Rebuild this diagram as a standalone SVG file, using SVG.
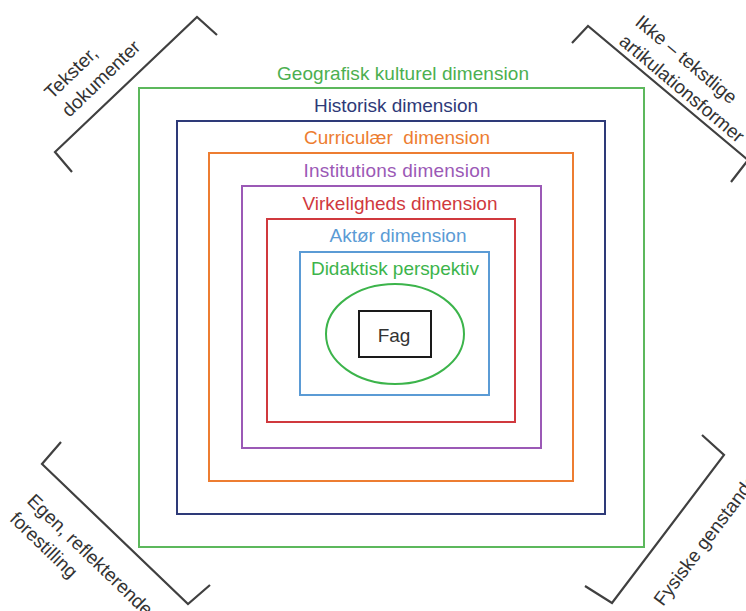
<svg xmlns="http://www.w3.org/2000/svg" width="746" height="611" viewBox="0 0 746 611">
<style>
  .box { fill: none; stroke-width: 2; }
  .lbl { font-family: "Liberation Sans", Arial, sans-serif; font-size: 19px; text-anchor: middle; }
  .corner { font-family: "Liberation Sans", Arial, sans-serif; font-size: 19px; fill: #333333; }
  .bracket { fill: none; stroke: #404040; stroke-width: 2.2; stroke-linejoin: miter; }
</style>
<rect width="746" height="611" fill="#ffffff"/>
<g id="brackets">
  <polyline class="bracket" points="72,172 55,152 197,17 217,35"/>
  <polyline class="bracket" points="572,43 588,26 748,160 731,182"/>
  <polyline class="bracket" points="61,442 42,464 188,604 210,585"/>
  <polyline class="bracket" points="702,435 724,455 612,603 585,586"/>
</g>
<g id="label-tekster" transform="translate(52,100) rotate(-44)">
  <text class="corner" x="0" y="0">Tekster,</text>
  <text class="corner" x="0" y="25">dokumenter</text>
</g>
<g id="label-ikke" transform="translate(634,24) rotate(40)">
  <text class="corner" x="0" y="0">Ikke – tekstlige</text>
  <text class="corner" x="0" y="25">artikulationsformer</text>
</g>
<g id="label-egen" transform="translate(26,502) rotate(44)">
  <text class="corner" x="0" y="0">Egen, reflekterende</text>
  <text class="corner" x="0" y="25">forestilling</text>
</g>
<g id="label-fysiske" transform="translate(663,607) rotate(-53)">
  <text class="corner" x="0" y="0">Fysiske genstande</text>
</g>
<g id="geografisk">
  <rect class="box" x="139" y="88" width="505" height="459" stroke="#5cb85c"/>
  <text class="lbl" x="403" y="80" fill="#4caf50" textLength="252">Geografisk kulturel dimension</text>
</g>
<g id="historisk">
  <rect class="box" x="177" y="121" width="428" height="393" stroke="#2e3a78"/>
  <text class="lbl" x="396" y="112" fill="#2e3a78" textLength="164">Historisk dimension</text>
</g>
<g id="curriculaer">
  <rect class="box" x="209" y="153" width="364" height="328" stroke="#ed7d31"/>
  <text class="lbl" x="397" y="144" fill="#ed7d31" textLength="186" xml:space="preserve">Curriculær  dimension</text>
</g>
<g id="institutions">
  <rect class="box" x="242" y="186" width="299" height="262" stroke="#9b59b6"/>
  <text class="lbl" x="397" y="177" fill="#9b59b6" textLength="187">Institutions dimension</text>
</g>
<g id="virkeligheds">
  <rect class="box" x="267" y="219" width="248" height="203" stroke="#d0393e"/>
  <text class="lbl" x="400" y="210" fill="#d0393e" textLength="195">Virkeligheds dimension</text>
</g>
<g id="aktor">
  <rect class="box" x="300" y="252" width="189" height="143" stroke="#5b9bd5"/>
  <text class="lbl" x="398" y="242" fill="#5b9bd5" textLength="137">Aktør dimension</text>
</g>
<g id="didaktisk">
  <ellipse class="box" cx="395" cy="334" rx="69" ry="50" stroke="#3cb44b"/>
  <text class="lbl" x="395" y="275" fill="#3cb44b" textLength="168">Didaktisk perspektiv</text>
</g>
<g id="fag">
  <rect class="box" x="359" y="311" width="72" height="46" stroke="#1a1a1a"/>
  <text class="lbl" x="394" y="342" fill="#333333">Fag</text>
</g>
</svg>
